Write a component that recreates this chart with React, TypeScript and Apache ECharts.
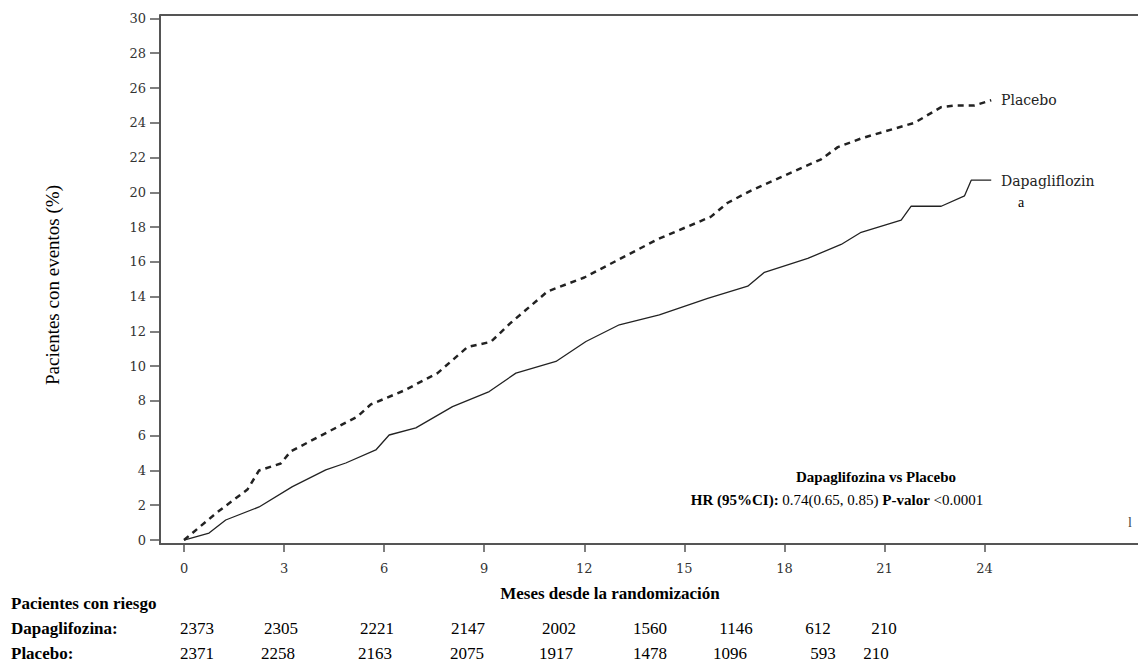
import * as echarts from "echarts";
import { useEffect, useRef } from "react";

// months, cumulative % with events
const placeboMonths = [0, 1.0, 1.9, 2.25, 2.9, 3.2, 4.0, 5.2, 5.6, 6.6, 7.6, 8.5, 9.2, 9.8, 10.9, 12.0, 12.5, 14.2, 15.8, 16.3, 17.0, 19.1, 19.6, 20.3, 21.9, 22.7, 23.1, 23.7, 24.2];
const placeboValues = [0, 1.6, 2.9, 4.0, 4.4, 5.1, 5.9, 7.1, 7.8, 8.6, 9.6, 11.1, 11.4, 12.5, 14.3, 15.1, 15.6, 17.3, 18.6, 19.4, 20.1, 21.9, 22.6, 23.1, 24.0, 24.9, 25.0, 25.0, 25.3];
const dapaMonths = [0, 0.75, 1.25, 2.25, 3.25, 4.25, 4.85, 5.75, 6.15, 6.95, 8.05, 9.15, 9.95, 11.15, 12.05, 13.05, 14.25, 15.7, 16.9, 17.4, 18.7, 19.7, 20.3, 21.5, 21.8, 22.7, 23.4, 23.6, 24.2];
const dapaValues = [0, 0.4, 1.15, 1.9, 3.07, 4.03, 4.43, 5.18, 6.04, 6.45, 7.67, 8.54, 9.6, 10.27, 11.42, 12.38, 12.95, 13.9, 14.6, 15.4, 16.2, 17.0, 17.7, 18.4, 19.2, 19.2, 19.8, 20.7, 20.7];

const xTicks = [0, 3, 6, 9, 12, 15, 18, 21, 24];
const yTicks = [0, 2, 4, 6, 8, 10, 12, 14, 16, 18, 20, 22, 24, 26, 28, 30];

const riskDapa = ["2373", "2305", "2221", "2147", "2002", "1560", "1146", "612", "210"];
const riskPlacebo = ["2371", "2258", "2163", "2075", "1917", "1478", "1096", "593", "210"];
const riskDapaX = [197, 281, 377, 468, 559, 650, 736, 818, 884];
const riskPlaceboX = [197, 278, 375, 467, 556, 650, 730, 823, 876];

const serif = "'Liberation Serif', 'Times New Roman', serif";
const tickFont = "'DejaVu Serif', serif";

const App = () => {
  const chartRef = useRef(null);

  useEffect(() => {
    const chart = echarts.init(chartRef.current, null, { renderer: "svg" });
    const txt = (x: number, y: number, text: string, extra: any = {}) => ({
      type: "text",
      x,
      y,
      style: { text, fontFamily: serif, fontSize: 17, fill: "#000", textVerticalAlign: "middle", ...extra },
    });
    const graphics: any[] = [
      { type: "line", shape: { x1: 160, y1: 15, x2: 1138, y2: 15 }, style: { stroke: "#555", lineWidth: 2 } },
      txt(11, 603, "Pacientes con riesgo", { fontWeight: "bold" }),
      txt(11, 628, "Dapaglifozina:", { fontWeight: "bold" }),
      txt(11, 653, "Placebo:", { fontWeight: "bold" }),
      txt(610, 593, "Meses desde la randomización", { fontWeight: "bold", textAlign: "center" }),
      txt(876, 477, "Dapaglifozina vs Placebo", { fontWeight: "bold", fontSize: 15, textAlign: "center" }),
      {
        type: "text",
        x: 837,
        y: 500,
        style: {
          text: "{b|HR (95%CI):} 0.74(0.65, 0.85) {b|P-valor} <0.0001",
          fontFamily: serif,
          fontSize: 15,
          fill: "#000",
          textAlign: "center",
          textVerticalAlign: "middle",
          rich: { b: { fontWeight: "bold", fontFamily: serif, fontSize: 15 } },
        },
      },
      txt(1001, 100, "Placebo", { fontFamily: tickFont, fontSize: 14, fill: "#222" }),
      txt(1001, 181, "Dapagliflozin", { fontFamily: tickFont, fontSize: 14, fill: "#222" }),
      txt(1018, 202, "a", { fontSize: 14 }),
      txt(1128, 522, "l", { fontSize: 14, fill: "#444" }),
      {
        type: "text",
        x: 52,
        y: 285,
        rotation: Math.PI / 2,
        style: { text: "Pacientes con eventos (%)", fontFamily: serif, fontSize: 19, fill: "#000", textAlign: "center", textVerticalAlign: "middle" },
      },
    ];
    riskDapa.forEach((v, i) => graphics.push(txt(riskDapaX[i], 628, v, { textAlign: "center" })));
    riskPlacebo.forEach((v, i) => graphics.push(txt(riskPlaceboX[i], 653, v, { textAlign: "center" })));

    chart.setOption({
      animation: false,
      grid: { left: 160, top: 15, width: 978, height: 529 },
      xAxis: {
        type: "value",
        min: -0.72,
        max: 28.6,
        splitLine: { show: false },
        axisLine: { onZero: false, lineStyle: { color: "#555", width: 2 } },
        axisTick: { customValues: xTicks, length: 8, lineStyle: { color: "#555", width: 1.5 } },
        axisLabel: { customValues: xTicks, margin: 18, fontFamily: tickFont, fontSize: 13, color: "#333" },
      },
      yAxis: {
        type: "value",
        min: -0.23,
        max: 30.2,
        splitLine: { show: false },
        axisLine: { show: true, onZero: false, lineStyle: { color: "#555", width: 2 } },
        axisTick: { show: true, customValues: yTicks, length: 10, lineStyle: { color: "#555", width: 1.5 } },
        axisLabel: { customValues: yTicks, margin: 14, fontFamily: tickFont, fontSize: 13, color: "#333" },
      },
      series: [
        {
          name: "Placebo",
          type: "line",
          showSymbol: false,
          data: placeboMonths.map((m, i) => [m, placeboValues[i]]),
          lineStyle: { color: "#222", width: 2.5, type: [6, 5] },
        },
        {
          name: "Dapagliflozin",
          type: "line",
          showSymbol: false,
          data: dapaMonths.map((m, i) => [m, dapaValues[i]]),
          lineStyle: { color: "#222", width: 1.3 },
        },
      ],
      graphic: graphics,
    });
    return () => {
      chart.dispose();
    };
  }, []);

  return <div ref={chartRef} style={{ position: "fixed", left: 0, top: 0, width: 1138, height: 663, background: "#fff" }} />;
};

export default App;
